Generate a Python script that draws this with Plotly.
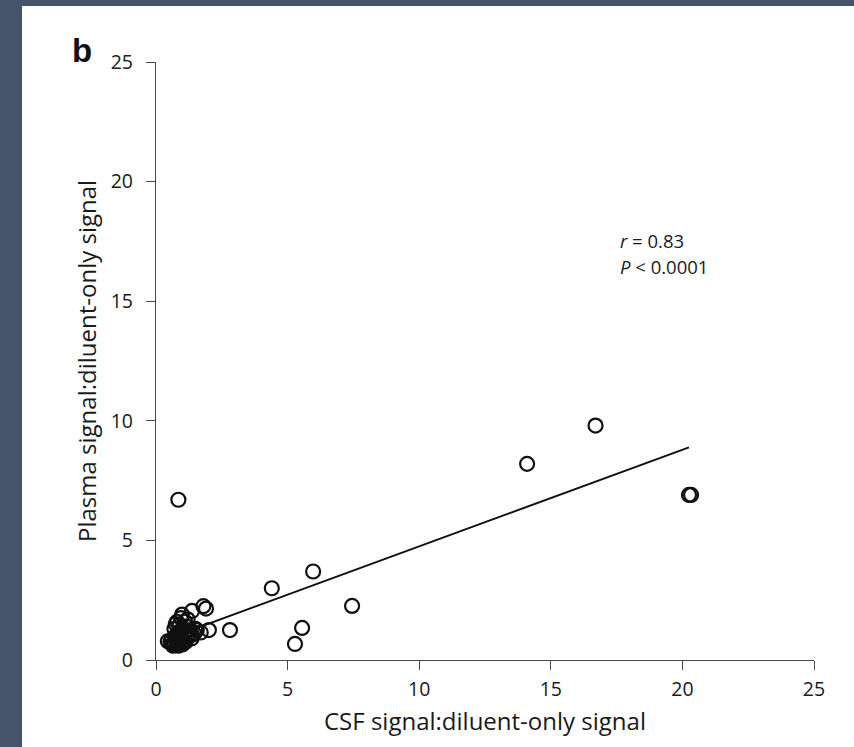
import plotly.graph_objects as go

# CSF vs plasma signal ratios (each normalised to diluent-only signal)
csf_ratio = [
    0.85, 16.7, 14.1, 20.25, 20.33,
    4.4, 5.97, 7.45, 5.55, 5.28, 2.81, 2.01,
    1.8, 1.9, 1.37, 0.99,
    0.45, 0.55, 0.6, 0.65, 0.7, 0.72, 0.75, 0.78, 0.8, 0.82, 0.85, 0.88,
    0.9, 0.92, 0.95, 0.98, 1.0, 1.02, 1.05, 1.08, 1.1, 1.12, 1.15, 1.2,
    1.25, 1.3, 1.35, 0.7, 0.75, 0.8, 0.9, 0.95, 1.1, 1.2, 1.45, 1.55,
    1.7, 1.5, 0.65, 0.85, 1.0, 1.37,
]
plasma_ratio = [
    6.7, 9.8, 8.2, 6.9, 6.9,
    3.0, 3.7, 2.26, 1.34, 0.67, 1.25, 1.25,
    2.25, 2.15, 2.05, 1.9,
    0.78, 0.75, 0.85, 0.7, 0.65, 0.9, 1.0, 0.8, 0.7, 1.1, 0.95, 0.75,
    1.2, 0.85, 1.05, 0.7, 0.9, 1.3, 0.8, 1.0, 1.15, 0.75, 1.4, 0.95,
    1.1, 1.25, 0.9, 1.3, 1.5, 1.6, 1.45, 1.75, 1.6, 1.7, 1.1, 1.25,
    1.15, 1.3, 0.6, 0.6, 0.65, 1.05,
]

# Least-squares fit drawn across the observed CSF range
fit_intercept = 0.71
fit_slope = 0.404
fit_x = [0.6, 20.25]
fit_y = [fit_intercept + fit_slope * v for v in fit_x]

axis_ticks = [0, 5, 10, 15, 20, 25]

ink = "#1a1a1a"
axis_grey = "#4a4a4a"
font_family = "'Open Sans', 'Liberation Sans', sans-serif"

# plot area in pixels: left 156, right 814, top 62, bottom 660
L, R, T, B = 156, 814, 62, 660
W_PX, H_PX = R - L, B - T


def px_x(p):
    return (p - L) / W_PX


def px_y(p):
    return (B - p) / H_PX


fig = go.Figure()

fig.add_trace(go.Scatter(
    x=fit_x, y=fit_y, mode="lines",
    line=dict(color="#111111", width=2),
    hoverinfo="skip", showlegend=False,
))

fig.add_trace(go.Scatter(
    x=csf_ratio, y=plasma_ratio, mode="markers",
    marker=dict(symbol="circle-open", size=14, color="#111111",
                line=dict(width=2.2, color="#111111")),
    showlegend=False,
))

axis_common = dict(
    range=[0, 25], tickvals=axis_ticks, showgrid=False, zeroline=False,
    showline=True, linecolor=axis_grey, linewidth=1.3,
    ticks="outside", ticklen=9, tickwidth=1.2, tickcolor=axis_grey,
    tickfont=dict(family=font_family, size=19.5, color=ink),
    fixedrange=True,
)

fig.update_xaxes(**axis_common, ticklabelstandoff=2)
fig.update_yaxes(**axis_common, ticklabelstandoff=9)

fig.update_layout(
    width=854, height=747,
    margin=dict(l=L, r=854 - R, t=T, b=747 - B),
    paper_bgcolor="#45546b",
    plot_bgcolor="rgba(0,0,0,0)",
    font=dict(family=font_family, color=ink),
    shapes=[dict(
        type="rect", xref="paper", yref="paper", layer="below",
        x0=px_x(22), x1=px_x(860), y0=px_y(760), y1=px_y(6),
        fillcolor="white", line=dict(width=0),
    )],
    annotations=[
        dict(text="<b>b</b>", xref="paper", yref="paper",
             x=px_x(70), y=px_y(51),
             xanchor="left", yanchor="middle", showarrow=False,
             font=dict(family="'Liberation Sans', Arial, sans-serif", size=33, color="#111111")),
        dict(text="<i>r</i> = 0.83", xref="paper", yref="paper",
             x=px_x(618), y=px_y(240),
             xanchor="left", yanchor="middle", showarrow=False,
             font=dict(size=18.5, color=ink)),
        dict(text="<i>P</i> < 0.0001", xref="paper", yref="paper",
             x=px_x(618), y=px_y(266),
             xanchor="left", yanchor="middle", showarrow=False,
             font=dict(size=18.5, color=ink)),
        dict(text="CSF signal:diluent-only signal", xref="paper", yref="paper",
             x=px_x(485), y=px_y(720),
             xanchor="center", yanchor="middle", showarrow=False,
             font=dict(size=24, color=ink)),
        dict(text="Plasma signal:diluent-only signal", xref="paper", yref="paper",
             x=px_x(86), y=px_y(361), textangle=-90,
             xanchor="center", yanchor="middle", showarrow=False,
             font=dict(size=24, color=ink)),
    ],
)

fig.write_html("out.html")
